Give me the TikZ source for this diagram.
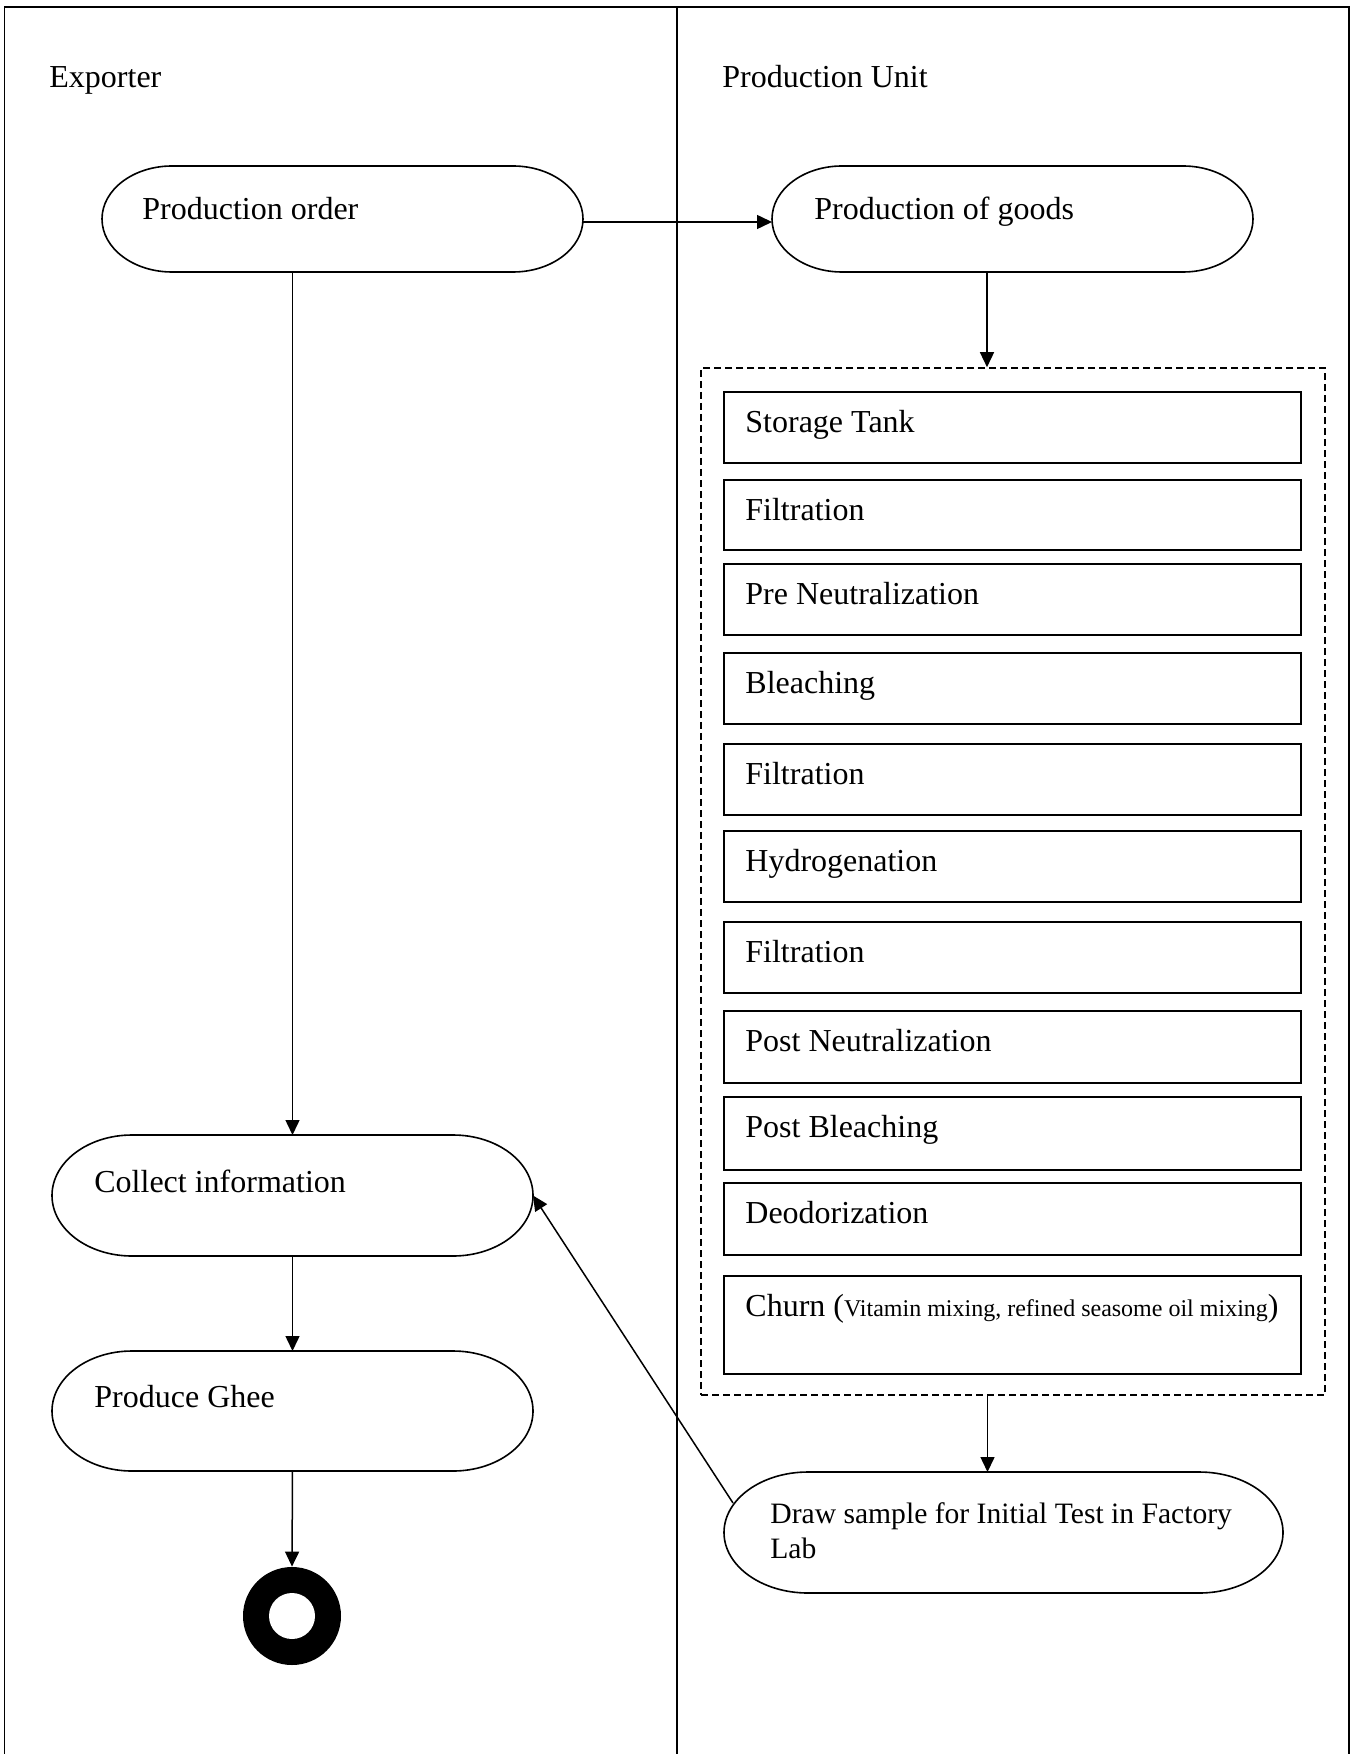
\documentclass[tikz,border=0pt]{standalone}
\usepackage{fontspec}
\setmainfont{Liberation Serif}
\usetikzlibrary{arrows.meta}

% capsule: #1 name, #2 left, #3 top, #4 right, #5 bottom, #6 horizontal radius of the ends
\newcommand\capsule[6]{%
  \node[inner sep=0pt,outer sep=0pt,minimum width={(#4-#2)*0.5pt},minimum height={(#5-#3)*0.5pt}]
    (#1) at ({(#2+#4)/2},{-(#3+#5)/2}) {};
  \draw[shapeline] ({#2+#6},-#3) -- ({#4-#6},-#3)
    arc[start angle=90,end angle=-90,x radius=#6,y radius={(#5-#3)/2}]
    -- ({#2+#6},-#5)
    arc[start angle=270,end angle=90,x radius=#6,y radius={(#5-#3)/2}] -- cycle;
}
% process step box: #1 name, #2 top, #3 bottom, #4 text
\newcommand\procbox[4]{%
  \node[stepbox,minimum height={(#3-#2)*0.5pt}] (#1) at (1012.5,{-(#2+#3)/2}) {};
  \node[txt] (#1-t) at (745,{-(#2+40.5)}) {#4};
}

\begin{document}
\begin{tikzpicture}[x=0.5pt,y=0.5pt,
  shapeline/.style={line width=0.8pt},
  frame/.style={line width=0.9pt},
  link/.style={line width=0.75pt,-{Triangle[length=7.5pt,width=7pt]}},
  txt/.style={inner sep=0pt,anchor=base west,font=\fontsize{16pt}{17.5pt}\selectfont},
  stepbox/.style={draw,line width=0.8pt,inner sep=0pt,minimum width=288.5pt},
  group/.style={draw,dash pattern=on 3.3pt off 2.2pt,line width=0.8pt,inner sep=0pt}
]
\useasboundingbox (0,0) rectangle (1358,-1754);

% swimlanes
\draw[frame] (4.5,-1754) -- (4.5,-7) -- (1349,-7) -- (1349,-1754);
\draw[frame] (677,-7) -- (677,-1754);
\node[txt] (lane1) at (49,-88) {Exporter};
\node[txt] (lane2) at (722,-88) {Production Unit};

% activities
\capsule{po}{102}{166}{583}{272}{70}
\node[txt] (po-t) at (142,-220) {Production order};
\capsule{pg}{772}{166}{1253}{272}{70}
\node[txt] (pg-t) at (814,-220) {Production of goods};
\capsule{ci}{52}{1135}{533}{1256}{80}
\node[txt] (ci-t) at (94,-1192) {Collect information};
\capsule{pgh}{52}{1351}{533}{1471}{80}
\node[txt] (pgh-t) at (94,-1407) {Produce Ghee};
\capsule{ds}{724}{1472}{1283}{1593}{84}
\node[txt,align=left,font=\fontsize{14.8pt}{17.3pt}\selectfont] (ds-t) at (770,-1558)
  {Draw sample for Initial Test in Factory\\Lab};

% final node
\node[circle,fill=black,inner sep=0pt,minimum size=49pt] (end) at (292,-1616) {};
\fill[white] (end.center) circle[radius=23];

% production steps
\node[group,minimum width=312pt,minimum height=513.5pt] (grp) at (1013,-881.5) {};
\procbox{s1}{392}{463}{Storage Tank}
\procbox{s2}{480}{550}{Filtration}
\procbox{s3}{564}{635}{Pre Neutralization}
\procbox{s4}{653}{724}{Bleaching}
\procbox{s5}{744}{815}{Filtration}
\procbox{s6}{831}{902}{Hydrogenation}
\procbox{s7}{922}{993}{Filtration}
\procbox{s8}{1011}{1083}{Post Neutralization}
\procbox{s9}{1097}{1170}{Post Bleaching}
\procbox{s10}{1183}{1255}{Deodorization}
\procbox{s11}{1276}{1374}{Churn ({\fontsize{12pt}{14pt}\selectfont Vitamin mixing, refined seasome oil mixing})}

% flows
\draw[link] ([yshift=-1.5pt]po.east) -- ([yshift=-1.5pt]pg.west);
\draw[link] ([xshift=-12.75pt]pg.south) -- ([xshift=-12.75pt]pg.south |- grp.north);
\draw[link] ([xshift=-12.75pt]grp.south) -- ([xshift=-12.75pt]grp.south |- ds.north);
\draw[link] (po.south -| ci.north) -- (ci.north);
\draw[link] (ci.south) -- (pgh.north);
\draw[link] (pgh.south) -- (end.north);
\coordinate (ds-out) at (733,-1503);
\draw[link] (ds-out) -- (ci.east);
\end{tikzpicture}
\end{document}
